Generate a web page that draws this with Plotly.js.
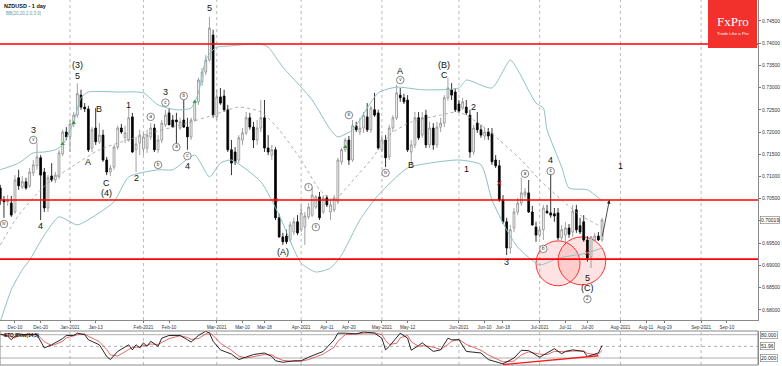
<!DOCTYPE html>
<html><head><meta charset="utf-8">
<script src="https://cdn.plot.ly/plotly-3.0.1.min.js"></script>
<style>html,body{margin:0;padding:0;background:#fff}#chart{width:782px;height:366px}</style>
</head><body><div id="chart"></div>
<script>
// ---------- calendar (trading days, holidays without bars) ----------
const holidays = ['2020-12-25', '2021-01-01'];
function tradingDays(first, last) {
  const out = [];
  for (let t = Date.parse(first + 'T00:00:00Z'); t <= Date.parse(last + 'T00:00:00Z'); t += 86400000) {
    const d = new Date(t), wd = d.getUTCDay(), s = d.toISOString().slice(0, 10);
    if (wd !== 0 && wd !== 6 && !holidays.includes(s)) out.push(s);
  }
  return out;
}
const calendar = tradingDays('2020-12-04', '2021-09-30');

// ---------- NZDUSD daily OHLC (Dec-04-2020 .. Jul-26-2021) ----------
const open = [
 .7074,.7047,.7043,.7040,.7020,.7097,.7076,.7088,.7079,.7108,.7124,.7142,.7110,.7029,.7101,.7092,.7099,.7151,.7200,
 .7189,.7218,.7238,.7283,.7256,.7252,.7164,.7209,.7178,.7193,.7137,.7110,.7121,.7166,.7209,.7187,.7182,.7234,.7160,.7175,
 .7162,.7164,.7189,.7209,.7160,.7182,.7216,.7243,.7227,.7227,.7209,.7227,.7211,.7189,.7227,.7268,.7313,.7335,.7362,.7418,
 .7234,.7279,.7281,.7250,.7160,.7155,.7137,.7182,.7198,.7232,.7211,.7182,.7209,.7232,.7164,.7148,.7160,.7007,.6964,.6966,.6957,.6975,.6998,
 .6980,.6986,.7009,.7013,.7031,.7054,.7020,.7052,.7020,.7025,.7043,.7133,.7160,.7182,.7137,.7214,.7200,.7209,.7234,.7205,.7250,.7243,
 .7160,.7182,.7144,.7209,.7232,.7283,.7277,.7272,.7155,.7171,.7232,.7193,.7238,.7171,.7209,.7171,.7211,.7220,.7277,.7295,.7290,
 .7263,.7254,.7256,.7238,.7155,.7220,.7205,.7191,.7200,.7196,.7137,.7124,.7047,.6998,.6939,.6984,.7020,.7040,.7058,.7063,.7020,.6986,
 .6968,.6980,.7022,.7018,.7016,.7018,.6962,.6968,.6984,.6975,.7025,.6989,.6998,.6957,.6919,.6957,.6966,.6957];
const high = [
 .7081,.7056,.7058,.7056,.7103,.7115,.7101,.7097,.7119,.7137,.7175,.7148,.7119,.7103,.7130,.7110,.7160,.7205,.7211,
 .7227,.7245,.7310,.7295,.7265,.7259,.7211,.7254,.7220,.7205,.7144,.7126,.7171,.7214,.7218,.7214,.7254,.7243,.7189,.7205,
 .7198,.7205,.7220,.7218,.7193,.7227,.7250,.7254,.7238,.7243,.7232,.7272,.7232,.7232,.7272,.7322,.7344,.7373,.7459,.7430,
 .7295,.7299,.7295,.7261,.7182,.7166,.7193,.7209,.7245,.7243,.7223,.7227,.7272,.7272,.7193,.7171,.7166,.7016,.6973,.6980,.6998,.7007,.7013,
 .7036,.7020,.7040,.7076,.7058,.7065,.7058,.7058,.7047,.7058,.7142,.7164,.7187,.7191,.7227,.7223,.7232,.7245,.7265,.7259,.7288,.7250,
 .7193,.7193,.7216,.7238,.7306,.7299,.7286,.7283,.7182,.7245,.7245,.7245,.7250,.7223,.7220,.7223,.7232,.7283,.7322,.7310,.7299,
 .7272,.7277,.7272,.7250,.7216,.7245,.7216,.7209,.7209,.7209,.7148,.7137,.7058,.7007,.6991,.7029,.7052,.7097,.7074,.7092,.7034,.6998,
 .6989,.7036,.7036,.7121,.7029,.7029,.6991,.6998,.6993,.7036,.7036,.7007,.7013,.6966,.6966,.6973,.6975,.7007];
const low = [
 .7036,.7007,.7034,.7009,.7016,.7070,.7072,.7070,.7074,.7101,.7115,.7002,.7020,.7020,.7088,.7085,.7094,.7146,.7182,
 .7155,.7211,.7232,.7250,.7245,.7155,.7155,.7171,.7173,.7133,.7103,.7101,.7115,.7160,.7196,.7175,.7178,.7153,.7110,.7148,
 .7148,.7153,.7182,.7155,.7153,.7175,.7211,.7216,.7211,.7171,.7205,.7209,.7160,.7182,.7223,.7261,.7304,.7328,.7358,.7232,
 .7227,.7261,.7245,.7155,.7103,.7126,.7130,.7171,.7193,.7205,.7164,.7171,.7200,.7155,.7148,.7137,.7002,.6962,.6946,.6948,.6953,.6968,.6968,
 .6975,.6946,.7004,.7009,.7027,.7002,.7016,.7031,.7002,.7020,.7038,.7126,.7155,.7126,.7133,.7200,.7193,.7198,.7200,.7198,.7234,.7160,
 .7155,.7121,.7137,.7200,.7227,.7268,.7263,.7155,.7126,.7164,.7182,.7187,.7164,.7164,.7160,.7164,.7200,.7211,.7270,.7272,.7245,
 .7243,.7250,.7238,.7142,.7148,.7198,.7187,.7182,.7182,.7126,.7119,.7043,.6993,.6923,.6926,.6975,.7013,.7034,.7052,.7018,.6989,.6953,
 .6962,.6957,.7016,.7007,.6998,.6957,.6953,.6953,.6962,.6964,.6973,.6970,.6953,.6908,.6894,.6953,.6955,.6953];
const close = [
 .7049,.7043,.7045,.7013,.7092,.7079,.7088,.7074,.7110,.7126,.7144,.7103,.7029,.7097,.7092,.7103,.7153,.7200,.7189,
 .7218,.7238,.7286,.7256,.7252,.7160,.7205,.7178,.7193,.7137,.7110,.7119,.7166,.7209,.7200,.7198,.7232,.7155,.7173,.7193,
 .7189,.7193,.7209,.7160,.7182,.7220,.7238,.7216,.7211,.7223,.7223,.7211,.7189,.7227,.7268,.7317,.7335,.7362,.7434,.7238,
 .7279,.7265,.7250,.7160,.7130,.7133,.7187,.7198,.7232,.7211,.7182,.7209,.7232,.7164,.7155,.7160,.7007,.6964,.6953,.6953,.6991,.6998,.6973,
 .7018,.7011,.7031,.7058,.7054,.7007,.7052,.7036,.7036,.7052,.7137,.7160,.7182,.7137,.7214,.7205,.7209,.7238,.7205,.7254,.7238,.7164,
 .7182,.7142,.7209,.7232,.7288,.7277,.7268,.7160,.7171,.7232,.7187,.7232,.7171,.7209,.7171,.7211,.7220,.7277,.7299,.7283,.7250,
 .7247,.7268,.7243,.7155,.7209,.7205,.7193,.7200,.7191,.7133,.7124,.7047,.6998,.6939,.6980,.7020,.7040,.7063,.7065,.7020,.6991,.6968,
 .6980,.7029,.7018,.7013,.7011,.6962,.6980,.6984,.6970,.7022,.6980,.6975,.6957,.6916,.6964,.6966,.6957,.7002];
const candleDates = calendar.slice(0, close.length);

// ---------- Bollinger Bands (20) ----------
const bbUpperDates = ['2020-12-04','2020-12-11','2020-12-17','2020-12-22','2020-12-28','2020-12-30','2021-01-05','2021-01-07','2021-01-11','2021-01-21','2021-02-01','2021-02-05','2021-02-12','2021-02-18','2021-02-22','2021-02-24','2021-02-26','2021-03-01','2021-03-05','2021-03-12','2021-03-17','2021-03-19','2021-03-25','2021-04-01','2021-04-06','2021-04-13','2021-04-15','2021-04-21','2021-04-30','2021-05-07','2021-05-18','2021-06-01','2021-06-03','2021-06-14','2021-06-21','2021-06-23','2021-06-30','2021-07-02','2021-07-05','2021-07-09','2021-07-13','2021-07-20','2021-07-26'];
const bbUpper = [.7115,.7130,.7153,.7155,.7160,.7171,.7223,.7277,.7290,.7290,.7288,.7261,.7250,.7254,.7288,.7362,.7385,.7391,.7394,.7398,.7398,.7391,.7346,.7301,.7272,.7205,.7189,.7205,.7288,.7301,.7295,.7299,.7317,.7299,.7362,.7340,.7265,.7254,.7205,.7121,.7074,.7070,.7045];
const bbMidDates = ['2020-12-04','2020-12-11','2020-12-21','2020-12-24','2021-01-04','2021-01-14','2021-02-01','2021-02-17','2021-02-26','2021-03-09','2021-03-17','2021-03-24','2021-04-01','2021-04-08','2021-04-14','2021-04-20','2021-04-28','2021-05-05','2021-05-13','2021-05-25','2021-06-01','2021-06-09','2021-06-16','2021-06-24','2021-07-01','2021-07-09','2021-07-16','2021-07-26'];
const bbMid = [.6946,.7013,.7070,.7092,.7119,.7160,.7193,.7220,.7238,.7256,.7245,.7205,.7137,.7070,.7047,.7081,.7137,.7193,.7223,.7238,.7245,.7216,.7182,.7137,.7092,.7047,.7013,.6986];
const bbLowerDates = ['2020-12-04','2020-12-09','2020-12-14','2020-12-16','2020-12-22','2020-12-29','2021-01-06','2021-01-13','2021-01-20','2021-01-26','2021-02-05','2021-02-11','2021-02-19','2021-02-25','2021-03-02','2021-03-05','2021-03-17','2021-03-24','2021-04-01','2021-04-07','2021-04-13','2021-04-16','2021-04-23','2021-04-30','2021-05-12','2021-05-20','2021-06-01','2021-06-09','2021-06-14','2021-06-18','2021-06-23','2021-07-01','2021-07-08','2021-07-20','2021-07-26'];
const bbLower = [.6773,.6845,.6890,.6912,.6968,.7009,.6991,.7013,.7043,.7099,.7115,.7115,.7148,.7099,.7130,.7137,.7088,.7013,.6905,.6885,.6894,.6923,.7002,.7058,.7119,.7130,.7137,.7126,.7047,.6980,.6941,.6901,.6916,.6928,.6939];

// ---------- Stochastic ----------
const stochDates = ['2020-12-04','2020-12-08','2020-12-09','2020-12-10','2020-12-11','2020-12-15','2020-12-18','2020-12-22','2020-12-24','2020-12-28','2020-12-30','2020-12-31',
 '2021-01-05','2021-01-06','2021-01-08','2021-01-11','2021-01-14','2021-01-18','2021-01-19','2021-01-21','2021-01-26','2021-01-27','2021-01-28','2021-01-29',
 '2021-02-01','2021-02-02','2021-02-03','2021-02-05','2021-02-08','2021-02-10','2021-02-15','2021-02-17','2021-02-18','2021-02-22','2021-02-24','2021-02-25','2021-02-26',
 '2021-03-02','2021-03-05','2021-03-09','2021-03-11','2021-03-15','2021-03-18','2021-03-22','2021-03-23','2021-03-25','2021-03-30',
 '2021-04-01','2021-04-05','2021-04-07','2021-04-09','2021-04-14','2021-04-15','2021-04-19','2021-04-22','2021-04-26','2021-04-29',
 '2021-05-03','2021-05-04','2021-05-05','2021-05-07','2021-05-10','2021-05-12','2021-05-13','2021-05-17','2021-05-18','2021-05-21','2021-05-25','2021-05-27','2021-05-28',
 '2021-06-01','2021-06-03','2021-06-09','2021-06-11','2021-06-17','2021-06-22','2021-06-24','2021-06-28',
 '2021-07-01','2021-07-05','2021-07-07','2021-07-09','2021-07-12','2021-07-14','2021-07-19','2021-07-20','2021-07-22','2021-07-23','2021-07-26'];
const stochK = [82,76,67,76,82,80,80,46,54,59,70,78, 78,84,80,67,54,24,16,37,54,41,54,46, 59,50,63,50,71,78,78,67,61,78,89,84,63,
 41,30,16,22,29,33,24,13,9,13, 13,22,29,37,67,84,84,82,87,84, 71,41,50,71,84,71,40,52,59,37,41,71,67, 67,37,33,16,5,20,40,39, 22,33,44,31,37,41,37,24,31,33,52];
const stochD = [80,79,74,72,77,81,81,62,52,55,63,72, 77,80,82,76,62,42,28,25,42,47,48,48, 52,53,56,55,60,70,77,73,68,70,82,86,78,
 58,40,25,20,24,29,28,22,14,11, 12,16,23,30,48,63,80,83,84,85, 80,65,55,58,72,78,62,50,52,48,42,55,63, 68,55,40,28,10,12,28,36, 30,29,37,37,36,38,38,32,29,30,40];

// ---------- BB signal arrows ----------
const upSignalDates = ['2020-12-30','2021-01-05','2021-02-19','2021-04-19'];
const upSignalPrice = [.7173,.7220,.7268,.7166];
const dnSignalDates = ['2021-03-23','2021-06-16','2021-07-20'];
const dnSignalPrice = [.7047,.7085,.6928];

// ---------- levels, ticks, wave labels ----------
const levels = [0.7398, 0.7047, 0.6914];
const lastPrice = 0.70019, lastStoch = 51.96;
const priceTicks = [0.680,0.685,0.690,0.695,0.700,0.705,0.710,0.715,0.720,0.725,0.730,0.735,0.740,0.745];
const tickDates = ['2020-12-10','2020-12-21','2021-01-04','2021-01-13','2021-02-01','2021-02-10','2021-03-01','2021-03-10','2021-03-18','2021-04-01','2021-04-12','2021-04-20','2021-05-03','2021-05-12','2021-06-01','2021-06-10','2021-06-17','2021-07-01','2021-07-12','2021-07-20','2021-08-02','2021-08-11','2021-08-18','2021-09-01','2021-09-10'];
const tickLabels = ['Dec-10','Dec-20','Jan-2021','Jan-13','Feb-2021','Feb-10','Mar-2021','Mar-10','Mar-18','Apr-2021','Apr-11','Apr-20','May-2021','May-12','Jun-2021','Jun-10','Jun-18','Jul-2021','Jul-11','Jul-20','Aug-2021','Aug-11','Aug-19','Sep-2021','Sep-10'];
const monthStarts = ['2021-01-04','2021-02-01','2021-03-01','2021-04-01','2021-05-03','2021-06-01','2021-07-01','2021-08-02','2021-09-01'];

const waveText  = ['(5)','5','(3)','5','3','4','A','B','C','(4)','1','2','3','4','(A)','A','B','(B)','C','1','2','3','4','5','(C)','1'];
const waveDate  = ['2021-02-25','2021-02-25','2021-01-06','2021-01-06','2020-12-17','2020-12-21','2021-01-11','2021-01-14','2021-01-18','2021-01-18','2021-01-26','2021-01-28','2021-02-09','2021-02-17','2021-03-25','2021-05-10','2021-05-13','2021-05-26','2021-05-26','2021-06-03','2021-06-07','2021-06-18','2021-07-06','2021-07-20','2021-07-20','2021-08-02'];
const wavePrice = [.7499,.7478,.7350,.7327,.7204,.6988,.7133,.7252,.7085,.7063,.7261,.7097,.7289,.7124,.6930,.7337,.7126,.7351,.7328,.7117,.7256,.6908,.7137,.6872,.6849,.7123];

const circText  = ['iv','v','a','c','b','b','a','c','i','ii','iii','iv','v','a','b','c','2'];
const circDate  = ['2020-12-07','2020-12-17','2021-02-03','2021-02-09','2021-02-16','2021-02-05','2021-02-12','2021-02-17','2021-04-05','2021-04-07','2021-04-20','2021-05-04','2021-05-10','2021-06-25','2021-07-02','2021-07-06','2021-07-20'];
const circPrice = [.6993,.7182,.7234,.7266,.7281,.7126,.7166,.7146,.7076,.6986,.7238,.7108,.7317,.7106,.6937,.7112,.6824];

// ---------- traces ----------
const FONT = 'Liberation Sans, Arial, sans-serif';
const traces = [
  {type:'scatter', mode:'lines', x:bbUpperDates, y:bbUpper, line:{color:'#8cc2c2', width:1, shape:'spline', smoothing:0.6}, hoverinfo:'skip'},
  {type:'scatter', mode:'lines', x:bbLowerDates, y:bbLower, line:{color:'#8cc2c2', width:1, shape:'spline', smoothing:0.6}, hoverinfo:'skip'},
  {type:'scatter', mode:'lines', x:bbMidDates, y:bbMid, line:{color:'#9a9a9a', width:0.8, dash:'dot', shape:'spline', smoothing:0.6}, hoverinfo:'skip'},
  {type:'candlestick', x:candleDates, open:open, high:high, low:low, close:close,
   increasing:{line:{color:'#8a8a8a', width:0.8}, fillcolor:'#ffffff'},
   decreasing:{line:{color:'#000000', width:0.8}, fillcolor:'#000000'},
   whiskerwidth:0, hoverinfo:'skip'},
  {type:'scatter', mode:'markers', x:upSignalDates, y:upSignalPrice, marker:{symbol:'triangle-up', size:4, color:'#2e9e3e'}, hoverinfo:'skip'},
  {type:'scatter', mode:'markers', x:dnSignalDates, y:dnSignalPrice, marker:{symbol:'x-thin', size:4, line:{color:'#e02020', width:1}}, hoverinfo:'skip'},
  {type:'scatter', mode:'markers+text', x:circDate, y:circPrice, text:circText, textposition:'middle center',
   textfont:{size:4.5, color:'#333', family:FONT},
   marker:{symbol:'circle', size:7.5, color:'rgba(255,255,255,0.85)', line:{color:'#555', width:0.7}}, hoverinfo:'skip', cliponaxis:false},
  {type:'scatter', mode:'lines', x:stochDates, y:stochD, yaxis:'y2', line:{color:'#e04040', width:0.8}, hoverinfo:'skip'},
  {type:'scatter', mode:'lines', x:stochDates, y:stochK, yaxis:'y2', line:{color:'#111', width:0.9}, hoverinfo:'skip'}
];

// ---------- shapes ----------
const shapes = [];
monthStarts.forEach(d => {
  shapes.push({type:'line', xref:'x', yref:'y domain', x0:d, x1:d, y0:0, y1:1, layer:'below', line:{color:'#a8a8a8', width:0.8, dash:'dot'}});
  shapes.push({type:'line', xref:'x', yref:'y2 domain', x0:d, x1:d, y0:0, y1:1, layer:'below', line:{color:'#a8a8a8', width:0.8, dash:'dot'}});
});
shapes.push({type:'circle', xref:'x', yref:'y', x0:'2021-06-30', x1:'2021-07-16', y0:.6854, y1:.6955, layer:'below', fillcolor:'rgba(255,70,70,0.15)', line:{color:'#ff3030', width:1}});
shapes.push({type:'circle', xref:'x', yref:'y', x0:'2021-07-08', x1:'2021-07-27', y0:.6856, y1:.6964, layer:'below', fillcolor:'rgba(255,70,70,0.15)', line:{color:'#ff3030', width:1}});
levels.forEach(v => shapes.push({type:'line', xref:'x domain', yref:'y', x0:0, x1:1, y0:v, y1:v, layer:'above', line:{color:'#ff0000', width:1.6}}));
[80, 20].forEach(v => shapes.push({type:'line', xref:'x domain', yref:'y2', x0:0, x1:1, y0:v, y1:v, layer:'below', line:{color:'#9a9a9a', width:0.8}}));
shapes.push({type:'line', xref:'x domain', yref:'y2', x0:0, x1:1, y0:50, y1:50, layer:'below', line:{color:'#9a9a9a', width:0.8, dash:'dot'}});
shapes.push({type:'rect', xref:'x domain', yref:'y2 domain', x0:0, x1:1, y0:0, y1:1, layer:'above', line:{color:'#8a8a8a', width:1}});
shapes.push({type:'line', xref:'x', yref:'y2', x0:'2021-06-17', x1:'2021-07-23', y0:3, y1:26, layer:'above', line:{color:'#ff1a1a', width:1.4}});
// FxPro badge
shapes.push({type:'rect', xref:'paper', yref:'paper', x0:0.934, x1:0.9987, y0:0.869, y1:1, layer:'above', fillcolor:'#f2302c', line:{width:0}});

// ---------- annotations ----------
const annotations = waveText.map((t, i) => ({x:waveDate[i], y:wavePrice[i], xref:'x', yref:'y', text:t, showarrow:false,
  font:{family:FONT, size:9, color:'#111'}, xanchor:'center', yanchor:'middle'}));
annotations.push({x:'2021-07-28', y:.7047, ax:'2021-07-26', ay:.6962, xref:'x', yref:'y', axref:'x', ayref:'y', text:'', showarrow:true,
  arrowhead:2, arrowsize:0.9, arrowwidth:0.8, arrowcolor:'#222'});
annotations.push({xref:'paper', yref:'paper', x:0, y:1, xanchor:'left', yanchor:'top', xshift:2, yshift:-1, showarrow:false,
  text:'<b>NZDUSD - 1 day</b>', font:{family:FONT, size:5.5, color:'#111'}});
annotations.push({xref:'paper', yref:'paper', x:0, y:1, xanchor:'left', yanchor:'top', xshift:4, yshift:-9, showarrow:false,
  text:'BB(20,20,2.0,3.0)', font:{family:FONT, size:4.5, color:'#5aa3a3'}});
annotations.push({xref:'paper', yref:'y2 domain', x:0, y:1, xanchor:'left', yanchor:'top', xshift:2, yshift:0, showarrow:false,
  text:'<b>STO Slow(14,5)</b>', font:{family:FONT, size:4.8, color:'#111'}});
annotations.push({xref:'paper', yref:'y', x:1, y:lastPrice, xanchor:'left', yanchor:'middle', xshift:2, showarrow:false,
  text:lastPrice.toFixed(5), font:{family:FONT, size:5, color:'#222'}, bgcolor:'#fff', bordercolor:'#777', borderwidth:0.6, borderpad:0.5});
[[80,'80.000'],[lastStoch,'51.96'],[20,'20.000']].forEach(p => annotations.push({xref:'paper', yref:'y2', x:1, y:p[0], xanchor:'left', yanchor:'middle', xshift:2, showarrow:false,
  text:p[1], font:{family:FONT, size:5, color:'#222'}, bgcolor:'#fff', bordercolor:'#777', borderwidth:0.6, borderpad:0.5}));
annotations.push({xref:'paper', yref:'paper', x:0.967, y:0.942, xanchor:'center', yanchor:'middle', showarrow:false,
  text:'FxPro', font:{family:'Liberation Serif, DejaVu Serif, serif', size:13, color:'#fff'}});
annotations.push({xref:'paper', yref:'paper', x:0.967, y:0.909, xanchor:'center', yanchor:'middle', showarrow:false,
  text:'Trade Like a Pro', font:{family:FONT, size:4.3, color:'#fff'}});

// ---------- layout ----------
const layout = {
  width:782, height:366, margin:{l:0, r:24, t:0, b:0, pad:0},
  paper_bgcolor:'#fff', plot_bgcolor:'#fff', showlegend:false, hovermode:false,
  font:{family:FONT, size:5, color:'#333'},
  xaxis:{type:'category', categoryorder:'array', categoryarray:calendar, range:[-0.08, 206.5], anchor:'y',
    rangeslider:{visible:false}, showgrid:false, zeroline:false, showline:true, mirror:true, linecolor:'#8a8a8a', linewidth:1,
    tickmode:'array', tickvals:tickDates, ticktext:tickLabels, ticks:'outside', ticklen:2, tickcolor:'#777',
    tickfont:{size:4.6, color:'#333'}, automargin:false, fixedrange:true},
  yaxis:{domain:[0.1257, 1], range:[0.6777, 0.7497], side:'right', showgrid:false, zeroline:false,
    showline:true, mirror:true, linecolor:'#8a8a8a', linewidth:1, tickmode:'array', tickvals:priceTicks,
    ticktext:priceTicks.map(v => v.toFixed(5)), ticks:'outside', ticklen:2, tickcolor:'#777',
    tickfont:{size:5, color:'#333'}, automargin:false, fixedrange:true},
  yaxis2:{domain:[0.0027, 0.0956], range:[2, 89.5], anchor:'x', side:'right', showgrid:false, zeroline:false,
    showline:true, mirror:true, linecolor:'#8a8a8a', linewidth:1, showticklabels:false, ticks:'', automargin:false, fixedrange:true},
  shapes:shapes, annotations:annotations
};

Plotly.newPlot('chart', traces, layout, {staticPlot:true, displayModeBar:false});
</script></body></html>
